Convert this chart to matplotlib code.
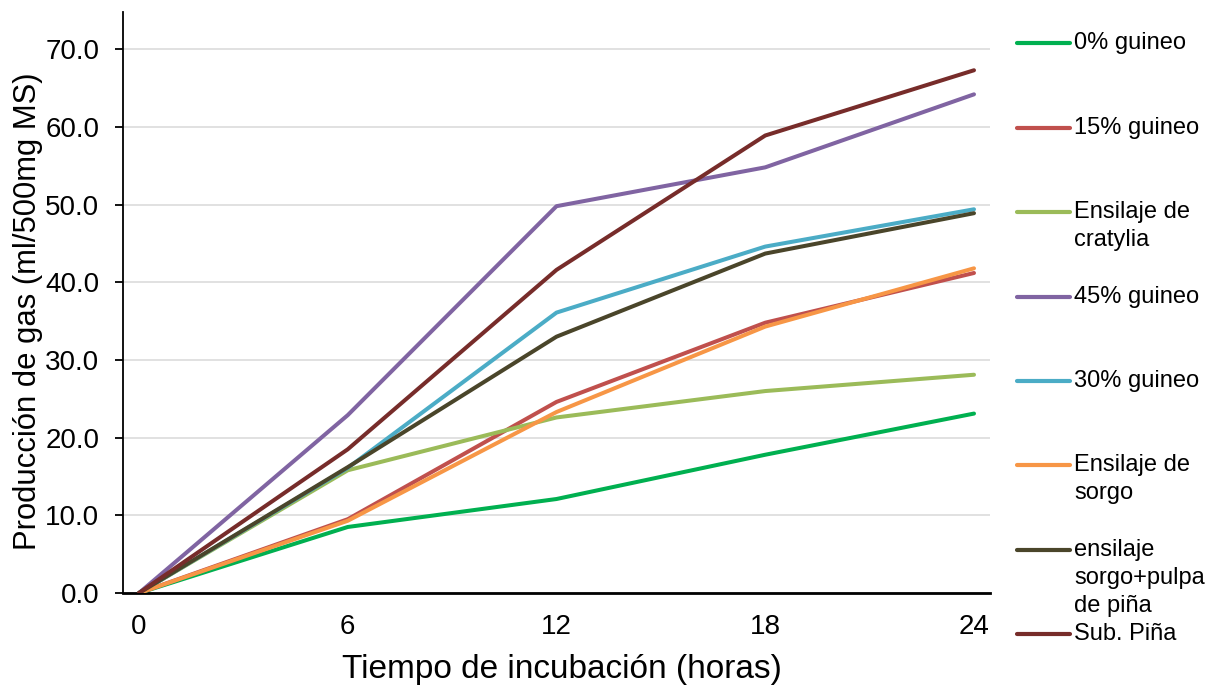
import matplotlib
matplotlib.use("Agg")
import matplotlib.pyplot as plt
from matplotlib.lines import Line2D

plt.rcParams['font.family'] = ['Liberation Sans', 'DejaVu Sans']

hours = [0, 6, 12, 18, 24]

labels = [
    "0% guineo",
    "15% guineo",
    "Ensilaje de\ncratylia",
    "45% guineo",
    "30% guineo",
    "Ensilaje de\nsorgo",
    "ensilaje\nsorgo+pulpa\nde piña",
    "Sub. Piña",
]

guineo_0 = [0.0, 8.5, 12.1, 17.8, 23.1]
guineo_15 = [0.0, 9.5, 24.6, 34.8, 41.2]
cratylia = [0.0, 15.8, 22.6, 26.0, 28.1]
guineo_45 = [0.0, 22.9, 49.8, 54.8, 64.2]
guineo_30 = [0.0, 16.1, 36.1, 44.6, 49.4]
sorgo = [0.0, 9.3, 23.3, 34.3, 41.8]
sorgo_pina = [0.0, 16.2, 33.0, 43.7, 48.9]
sub_pina = [0.0, 18.5, 41.6, 58.9, 67.3]

series = [guineo_0, guineo_15, cratylia, guineo_45, guineo_30, sorgo, sorgo_pina, sub_pina]
colors = ["#00B050", "#C0504D", "#9BBB59", "#8064A2", "#4BACC6", "#F79646", "#4A452A", "#772C2A"]

yticks = [0, 10, 20, 30, 40, 50, 60, 70]

W, H = 1208, 687
fig = plt.figure(figsize=(W / 100, H / 100), dpi=100)
ax = fig.add_axes([123 / W, 1 - 593 / H, (990 - 123) / W, (593 - 12) / H])

for vals, col in zip(series, colors):
    ax.plot(hours, vals, color=col, lw=2.9, solid_capstyle='round', solid_joinstyle='round', zorder=3)

ax.set_xlim(-0.46, 24.46)
ax.set_ylim(0, 74.8)
ax.set_xticks(hours)
ax.set_xticklabels([str(h) for h in hours])
ax.set_yticks(yticks)
ax.set_yticklabels([f"{v:.1f}" for v in yticks])
ax.grid(axis='y', color='#D9D9D9', lw=1.1, zorder=0)
ax.set_axisbelow(True)

for s in ['top', 'right']:
    ax.spines[s].set_visible(False)
ax.spines['left'].set_linewidth(1.3)
ax.spines['bottom'].set_linewidth(2.0)
ax.tick_params(axis='y', length=6, width=1.3, direction='out', labelsize=20, pad=11)
ax.tick_params(axis='x', length=0, labelsize=20, pad=15)

ax.set_xlabel("Tiempo de incubación (horas)", fontsize=24)
ax.xaxis.set_label_coords(0.506, -0.105)
ax.set_ylabel("Producción de gas (ml/500mg MS)", fontsize=22.3)
ax.yaxis.set_label_coords(-0.092, 0.485)

# Legend drawn in figure coordinates, one entry per row
row_y = [43, 128, 212, 297, 381, 465, 550, 634]
line_h = 28
for lab, col, yy in zip(labels, colors, row_y):
    fig.add_artist(Line2D([1017 / W, 1070 / W], [1 - yy / H, 1 - yy / H],
                          color=col, lw=3, solid_capstyle='round'))
    for k, part in enumerate(lab.split("\n")):
        fig.text(1074 / W, 1 - (yy + k * line_h) / H, part, fontsize=17,
                 ha='left', va='center')

fig.savefig("out.png", dpi=100)
